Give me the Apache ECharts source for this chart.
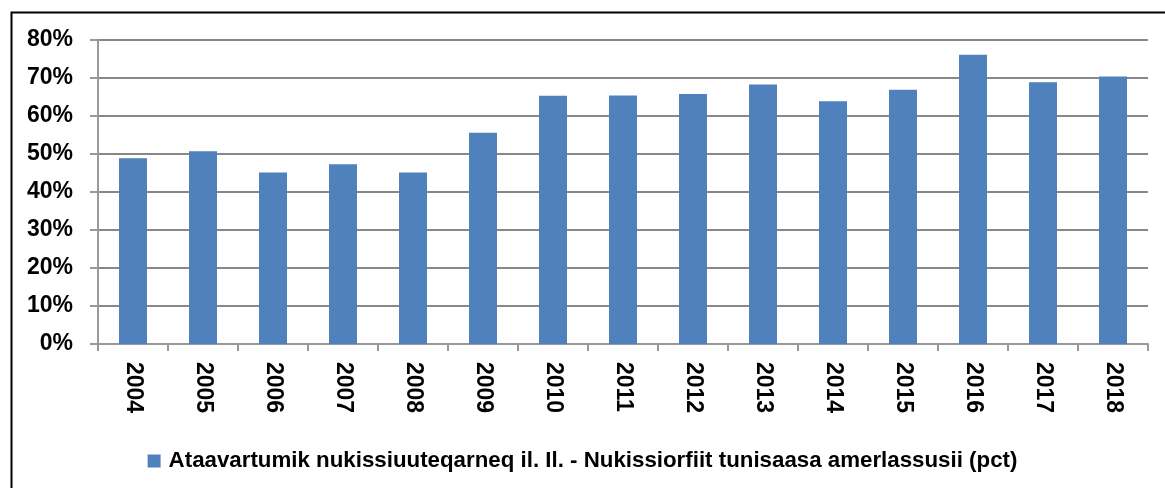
<!DOCTYPE html>
<html>
<head>
<meta charset="utf-8">
<script src="https://cdn.jsdelivr.net/npm/echarts@6/dist/echarts.min.js"></script>
<style>html,body{margin:0;padding:0;background:#fff;}#c{width:1165px;height:488px;}</style>
</head>
<body>
<div id="c"></div>
<script>
const years = ['2004','2005','2006','2007','2008','2009','2010','2011','2012','2013','2014','2015','2016','2017','2018'];
const values = [48.9,50.7,45.1,47.3,45.1,55.6,65.3,65.4,65.8,68.3,63.9,66.9,76.1,68.9,70.4];
const seriesName = 'Ataavartumik nukissiuuteqarneq il. Il. - Nukissiorfiit tunisaasa amerlassusii (pct)';
const yTicks = {min:0, max:80, interval:10};

const font = "'Liberation Sans', Arial, sans-serif";
const narrow = "'Liberation Sans Narrow', 'Liberation Sans', Arial, sans-serif";
const chart = echarts.init(document.getElementById('c'), null, {renderer:'canvas'});
chart.setOption({
  animation:false,
  backgroundColor:'#fff',
  graphic:[{type:'rect', left:9, top:10, shape:{width:1300,height:700}, style:{fill:null, stroke:'#000', lineWidth:2}, z:100}],
  grid:{left:98, right:17, top:40, bottom:144, containLabel:false},
  legend:{
    data:[seriesName], left:'center', top:445, icon:'rect', itemWidth:13, itemHeight:13, itemGap:6,
    textStyle:{fontFamily:narrow, fontWeight:'bold', fontSize:22.3, color:'#000', padding:[0,0,0,3]}
  },
  xAxis:{
    type:'category', data:years, boundaryGap:true,
    axisLine:{lineStyle:{color:'#999', width:2}},
    axisTick:{show:true, alignWithLabel:false, length:7, lineStyle:{color:'#999', width:2}},
    axisLabel:{rotate:-90, margin:18, fontFamily:font, fontWeight:'bold', fontSize:23, color:'#000'}
  },
  yAxis:{
    type:'value', min:yTicks.min, max:yTicks.max, interval:yTicks.interval,
    axisLine:{show:true, lineStyle:{color:'#999', width:2}},
    axisTick:{show:true, length:8, lineStyle:{color:'#999', width:2}},
    splitLine:{lineStyle:{color:'#878787', width:2}},
    axisLabel:{formatter:'{value}%', margin:25, fontFamily:font, fontWeight:'bold', fontSize:23, color:'#000'}
  },
  series:[{
    name:seriesName, type:'bar', data:values, barWidth:'40%',
    itemStyle:{color:'#4F81BD'}
  }]
});
</script>
</body>
</html>
